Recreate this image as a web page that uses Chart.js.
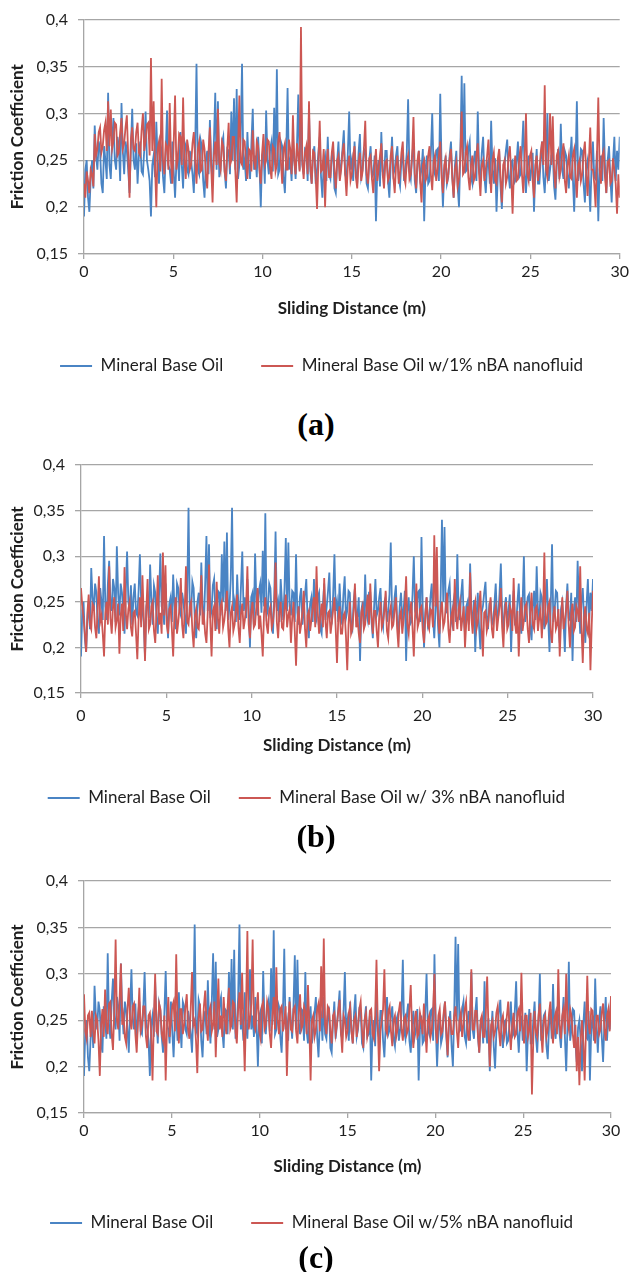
<!DOCTYPE html>
<html>
<head>
<meta charset="utf-8">
<script src="https://cdn.jsdelivr.net/npm/chart.js@4.4.0/dist/chart.umd.min.js"></script>
<style>
  html, body { margin: 0; padding: 0; background: #fff; }
  body { width: 632px; height: 1272px; position: relative; overflow: hidden; }
  canvas { position: absolute; left: 0; }
  .tag { position: absolute; left: 0; width: 632px; text-align: center; line-height: 36px;
         font: bold 32px "Liberation Serif", "Times New Roman", serif; color: #000; }
</style>
</head>
<body>
<canvas id="chartA" width="632" height="390" style="top:0px"></canvas>
<div class="tag" style="top:406px">(a)</div>
<canvas id="chartB" width="632" height="375" style="top:445px"></canvas>
<div class="tag" style="top:818px">(b)</div>
<canvas id="chartC" width="632" height="385" style="top:860px"></canvas>
<div class="tag" style="top:1239px">(c)</div>

<script>
// sampling step along the sliding distance (m)
const STEP = 0.075;
const xTicks = [0, 5, 10, 15, 20, 25, 30];
const yTicks = [0.15, 0.2, 0.25, 0.3, 0.35, 0.4];

// Mineral Base Oil (same run in all three panels)
const baseOil = [
  0.19,0.24,0.25,0.21,0.195,0.23,0.25,0.22,0.287,0.255,0.24,0.27,0.26,0.225,0.215,0.265,0.25,0.23,0.322,0.245,0.23,0.27,0.295,0.25,0.24,0.275,0.265,0.228,0.311,0.26,0.235,0.27,0.26,0.24,0.215,0.262,0.305,0.25,0.24,0.268,
  0.225,0.255,0.27,0.238,0.235,0.262,0.302,0.25,0.24,0.228,0.19,0.245,0.255,0.232,0.291,0.25,0.225,0.268,0.26,0.232,0.215,0.258,0.303,0.245,0.24,0.225,0.27,0.238,0.21,0.248,0.255,0.228,0.28,0.245,0.22,0.27,0.265,0.24,0.235,0.26,
  0.25,0.235,0.215,0.262,0.353,0.24,0.235,0.272,0.265,0.228,0.21,0.25,0.26,0.235,0.293,0.245,0.225,0.27,0.322,0.24,0.313,0.232,0.24,0.268,0.275,0.238,0.22,0.262,0.26,0.235,0.302,0.25,0.316,0.24,0.326,0.23,0.245,0.275,0.353,0.24,
  0.25,0.228,0.28,0.245,0.23,0.268,0.305,0.24,0.255,0.232,0.275,0.245,0.2,0.255,0.26,0.225,0.303,0.25,0.235,0.262,0.27,0.238,0.306,0.245,0.347,0.235,0.24,0.27,0.265,0.232,0.215,0.258,0.327,0.24,0.25,0.228,0.275,0.25,0.23,0.265,
  0.32,0.24,0.315,0.245,0.235,0.262,0.26,0.228,0.302,0.238,0.225,0.255,0.265,0.225,0.24,0.258,0.275,0.232,0.21,0.248,0.255,0.228,0.275,0.235,0.23,0.255,0.26,0.22,0.215,0.248,0.27,0.23,0.245,0.262,0.282,0.235,0.23,0.258,0.302,0.24,
  0.25,0.228,0.27,0.238,0.225,0.258,0.278,0.232,0.24,0.262,0.26,0.225,0.22,0.25,0.265,0.232,0.235,0.255,0.185,0.24,0.25,0.222,0.28,0.238,0.23,0.26,0.26,0.228,0.21,0.245,0.275,0.235,0.24,0.255,0.265,0.23,0.222,0.25,0.255,0.228,
  0.24,0.258,0.315,0.238,0.23,0.255,0.268,0.228,0.215,0.245,0.26,0.232,0.24,0.262,0.185,0.24,0.255,0.225,0.228,0.258,0.3,0.24,0.235,0.26,0.262,0.228,0.321,0.242,0.2,0.238,0.255,0.225,0.232,0.255,0.27,0.232,0.21,0.245,0.26,0.222,
  0.2,0.258,0.34,0.25,0.332,0.238,0.24,0.262,0.27,0.232,0.225,0.25,0.26,0.228,0.302,0.24,0.23,0.258,0.275,0.232,0.215,0.245,0.25,0.225,0.292,0.24,0.225,0.252,0.195,0.235,0.26,0.222,0.198,0.238,0.245,0.26,0.272,0.235,0.22,0.248,
  0.25,0.225,0.228,0.248,0.27,0.232,0.235,0.26,0.292,0.238,0.215,0.245,0.255,0.228,0.24,0.258,0.195,0.238,0.262,0.225,0.225,0.25,0.27,0.232,0.215,0.248,0.3,0.228,0.24,0.255,0.258,0.222,0.208,0.245,0.262,0.23,0.289,0.24,0.23,0.26,
  0.255,0.235,0.22,0.25,0.275,0.232,0.195,0.245,0.313,0.228,0.24,0.262,0.26,0.225,0.205,0.242,0.25,0.228,0.195,0.245,0.27,0.232,0.23,0.26,0.185,0.24,0.255,0.228,0.295,0.245,0.215,0.25,0.265,0.232,0.205,0.248,0.275,0.228,0.26,0.24,
  0.275
];

// Mineral Base Oil w/1% nBA nanofluid
const nba1 = [
  0.225,0.21,0.238,0.228,0.215,0.24,0.235,0.222,0.278,0.255,0.262,0.28,0.285,0.258,0.265,0.282,0.29,0.26,0.313,0.265,0.304,0.262,0.27,0.29,0.288,0.255,0.258,0.28,0.295,0.262,0.268,0.285,0.298,0.255,0.21,0.272,0.285,0.262,0.26,0.28,
  0.29,0.258,0.255,0.282,0.3,0.26,0.27,0.288,0.29,0.255,0.359,0.26,0.313,0.245,0.2,0.262,0.27,0.238,0.337,0.25,0.235,0.268,0.265,0.24,0.311,0.248,0.225,0.27,0.319,0.24,0.25,0.278,0.275,0.245,0.317,0.25,0.23,0.272,0.262,0.24,
  0.245,0.268,0.28,0.25,0.225,0.262,0.27,0.238,0.24,0.272,0.262,0.235,0.22,0.26,0.285,0.242,0.205,0.255,0.27,0.245,0.305,0.248,0.24,0.27,0.265,0.238,0.228,0.262,0.29,0.245,0.25,0.275,0.275,0.238,0.205,0.26,0.319,0.248,0.245,0.272,
  0.27,0.245,0.23,0.262,0.26,0.238,0.282,0.25,0.24,0.27,0.265,0.24,0.225,0.258,0.278,0.245,0.25,0.272,0.27,0.242,0.23,0.265,0.262,0.238,0.245,0.27,0.28,0.25,0.225,0.262,0.268,0.24,0.24,0.272,0.262,0.235,0.298,0.25,0.235,0.268,
  0.255,0.238,0.392,0.25,0.23,0.258,0.265,0.235,0.313,0.245,0.225,0.26,0.258,0.232,0.198,0.248,0.292,0.238,0.24,0.262,0.2,0.245,0.262,0.232,0.232,0.258,0.27,0.24,0.22,0.25,0.255,0.228,0.24,0.258,0.268,0.235,0.212,0.245,0.255,0.228,
  0.235,0.255,0.265,0.232,0.22,0.248,0.258,0.228,0.238,0.262,0.292,0.235,0.225,0.252,0.255,0.23,0.215,0.245,0.262,0.228,0.24,0.255,0.268,0.235,0.22,0.248,0.25,0.228,0.232,0.255,0.265,0.232,0.215,0.245,0.255,0.225,0.238,0.258,0.27,0.232,
  0.225,0.248,0.255,0.23,0.235,0.255,0.296,0.235,0.22,0.25,0.26,0.228,0.205,0.245,0.25,0.228,0.232,0.255,0.265,0.235,0.218,0.248,0.255,0.228,0.24,0.255,0.27,0.232,0.215,0.245,0.252,0.225,0.235,0.252,0.262,0.23,0.21,0.24,0.248,0.222,
  0.23,0.255,0.302,0.235,0.238,0.258,0.265,0.232,0.218,0.245,0.255,0.228,0.232,0.255,0.268,0.235,0.212,0.245,0.25,0.228,0.24,0.255,0.272,0.235,0.215,0.25,0.258,0.228,0.225,0.252,0.262,0.232,0.205,0.245,0.25,0.225,0.232,0.255,0.265,0.235,
  0.193,0.238,0.255,0.228,0.23,0.252,0.265,0.235,0.215,0.248,0.3,0.235,0.228,0.255,0.26,0.228,0.21,0.245,0.255,0.228,0.238,0.258,0.27,0.245,0.33,0.24,0.232,0.258,0.3,0.245,0.297,0.24,0.22,0.255,0.26,0.232,0.24,0.258,0.268,0.228,
  0.215,0.245,0.255,0.232,0.23,0.255,0.262,0.235,0.21,0.245,0.25,0.228,0.235,0.258,0.27,0.235,0.212,0.25,0.285,0.24,0.24,0.225,0.2,0.255,0.317,0.24,0.225,0.255,0.26,0.232,0.215,0.248,0.25,0.225,0.228,0.252,0.24,0.225,0.193,0.235,
  0.21
];

// Mineral Base Oil w/ 3% nBA nanofluid
const nba3 = [
  0.265,0.245,0.232,0.215,0.195,0.238,0.258,0.225,0.22,0.248,0.245,0.222,0.21,0.242,0.278,0.228,0.235,0.215,0.19,0.238,0.25,0.225,0.289,0.232,0.215,0.245,0.255,0.222,0.23,0.248,0.193,0.235,0.248,0.218,0.288,0.238,0.22,0.242,0.25,0.222,
  0.212,0.238,0.24,0.215,0.187,0.232,0.255,0.222,0.279,0.235,0.185,0.24,0.275,0.22,0.225,0.245,0.25,0.218,0.205,0.24,0.279,0.225,0.238,0.215,0.304,0.235,0.29,0.225,0.215,0.242,0.245,0.22,0.19,0.238,0.255,0.215,0.228,0.245,0.276,0.225,
  0.21,0.24,0.289,0.228,0.225,0.245,0.25,0.218,0.2,0.235,0.242,0.222,0.22,0.245,0.279,0.225,0.235,0.215,0.205,0.238,0.291,0.228,0.19,0.24,0.245,0.218,0.272,0.232,0.215,0.245,0.25,0.222,0.23,0.245,0.262,0.22,0.2,0.238,0.245,0.218,
  0.225,0.242,0.258,0.222,0.205,0.238,0.248,0.22,0.23,0.245,0.289,0.225,0.21,0.238,0.25,0.222,0.225,0.245,0.265,0.22,0.235,0.215,0.19,0.238,0.255,0.225,0.215,0.24,0.245,0.222,0.228,0.245,0.293,0.228,0.21,0.238,0.25,0.222,0.22,0.242,
  0.258,0.222,0.235,0.242,0.205,0.232,0.25,0.218,0.18,0.228,0.245,0.215,0.225,0.24,0.262,0.22,0.2,0.235,0.24,0.218,0.23,0.245,0.255,0.222,0.289,0.238,0.215,0.235,0.248,0.222,0.276,0.228,0.21,0.238,0.24,0.215,0.228,0.242,0.255,0.22,
  0.183,0.232,0.245,0.215,0.215,0.235,0.238,0.212,0.175,0.225,0.25,0.215,0.22,0.24,0.27,0.222,0.232,0.215,0.205,0.238,0.245,0.22,0.225,0.242,0.258,0.225,0.27,0.235,0.215,0.24,0.24,0.218,0.2,0.235,0.25,0.222,0.228,0.24,0.262,0.218,
  0.21,0.238,0.245,0.222,0.225,0.242,0.255,0.22,0.2,0.235,0.24,0.215,0.23,0.245,0.278,0.225,0.215,0.238,0.25,0.222,0.19,0.235,0.27,0.222,0.228,0.242,0.245,0.218,0.205,0.235,0.255,0.225,0.22,0.242,0.24,0.222,0.323,0.245,0.31,0.232,
  0.215,0.24,0.25,0.222,0.228,0.245,0.26,0.22,0.205,0.232,0.24,0.218,0.275,0.235,0.22,0.242,0.25,0.218,0.232,0.245,0.2,0.228,0.245,0.218,0.282,0.232,0.215,0.242,0.25,0.22,0.228,0.245,0.262,0.222,0.19,0.238,0.24,0.218,0.225,0.242,
  0.255,0.22,0.21,0.238,0.245,0.218,0.232,0.245,0.265,0.222,0.2,0.238,0.25,0.22,0.225,0.245,0.24,0.218,0.276,0.228,0.215,0.24,0.19,0.232,0.255,0.218,0.23,0.245,0.248,0.22,0.205,0.238,0.26,0.225,0.22,0.242,0.245,0.218,0.232,0.24,
  0.21,0.238,0.304,0.225,0.228,0.245,0.25,0.218,0.205,0.235,0.245,0.22,0.225,0.242,0.19,0.228,0.255,0.22,0.23,0.242,0.262,0.225,0.2,0.238,0.248,0.218,0.222,0.245,0.24,0.228,0.289,0.222,0.183,0.232,0.245,0.22,0.215,0.238,0.175,0.225,
  0.262
];

// Mineral Base Oil w/5% nBA nanofluid
const nba5 = [
  0.278,0.238,0.23,0.255,0.258,0.232,0.26,0.238,0.225,0.255,0.25,0.228,0.19,0.245,0.262,0.232,0.283,0.245,0.235,0.268,0.27,0.235,0.218,0.26,0.337,0.25,0.24,0.272,0.311,0.245,0.255,0.232,0.225,0.262,0.285,0.25,0.24,0.265,0.268,0.235,
  0.215,0.25,0.285,0.238,0.245,0.265,0.265,0.232,0.22,0.255,0.258,0.235,0.185,0.248,0.3,0.238,0.235,0.268,0.262,0.235,0.228,0.255,0.185,0.245,0.275,0.232,0.248,0.265,0.27,0.238,0.321,0.25,0.225,0.262,0.262,0.235,0.245,0.265,0.278,0.24,
  0.23,0.262,0.302,0.245,0.25,0.228,0.193,0.252,0.268,0.238,0.24,0.265,0.282,0.245,0.228,0.26,0.265,0.238,0.245,0.27,0.21,0.255,0.295,0.24,0.255,0.232,0.275,0.25,0.235,0.265,0.285,0.24,0.245,0.27,0.268,0.238,0.225,0.262,0.28,0.245,
  0.301,0.245,0.195,0.262,0.346,0.24,0.25,0.268,0.337,0.245,0.24,0.262,0.28,0.238,0.23,0.265,0.27,0.24,0.245,0.27,0.262,0.235,0.22,0.255,0.275,0.24,0.307,0.25,0.235,0.262,0.265,0.238,0.248,0.265,0.19,0.245,0.27,0.24,0.238,0.262,
  0.265,0.238,0.225,0.258,0.278,0.24,0.245,0.265,0.26,0.235,0.288,0.245,0.185,0.25,0.255,0.232,0.24,0.262,0.268,0.238,0.308,0.252,0.338,0.245,0.235,0.265,0.262,0.238,0.225,0.255,0.258,0.235,0.245,0.26,0.272,0.238,0.215,0.255,0.25,0.232,
  0.238,0.258,0.265,0.238,0.225,0.25,0.255,0.232,0.245,0.262,0.27,0.24,0.22,0.25,0.258,0.232,0.24,0.26,0.262,0.235,0.23,0.255,0.315,0.245,0.195,0.238,0.25,0.262,0.305,0.24,0.235,0.26,0.265,0.238,0.222,0.25,0.255,0.232,0.24,0.26,
  0.27,0.24,0.228,0.252,0.255,0.235,0.24,0.262,0.288,0.24,0.22,0.25,0.26,0.232,0.235,0.258,0.25,0.235,0.268,0.24,0.215,0.25,0.255,0.232,0.24,0.262,0.3,0.24,0.225,0.255,0.262,0.235,0.238,0.258,0.27,0.238,0.212,0.252,0.25,0.235,
  0.235,0.255,0.265,0.238,0.22,0.25,0.258,0.232,0.245,0.262,0.27,0.238,0.228,0.255,0.305,0.24,0.24,0.26,0.26,0.235,0.215,0.25,0.255,0.232,0.232,0.258,0.297,0.24,0.2,0.245,0.25,0.232,0.238,0.258,0.265,0.238,0.222,0.25,0.255,0.232,
  0.24,0.255,0.27,0.238,0.218,0.245,0.258,0.232,0.235,0.258,0.262,0.238,0.301,0.245,0.225,0.255,0.255,0.232,0.24,0.258,0.17,0.228,0.26,0.238,0.232,0.255,0.268,0.235,0.215,0.25,0.255,0.232,0.24,0.258,0.27,0.24,0.225,0.252,0.258,0.235,
  0.305,0.245,0.23,0.255,0.262,0.235,0.3,0.25,0.24,0.262,0.255,0.235,0.22,0.245,0.195,0.232,0.18,0.228,0.25,0.225,0.185,0.24,0.298,0.245,0.235,0.262,0.26,0.238,0.225,0.255,0.255,0.235,0.24,0.258,0.268,0.24,0.228,0.255,0.262,0.238,
  0.276
];

const distance = baseOil.map((_, i) => +(i * STEP).toFixed(3));

const BLUE = '#4a84c4';
const RED = '#cc5753';
const GRID = '#a6a6a6';
const TEXT = '#1e1e1e';
const FONT = 'Lato, "Open Sans", sans-serif';

const toPoints = arr => arr.map((v, i) => ({ x: distance[i], y: v }));
const comma = v => String(+(+v).toFixed(2)).replace('.', ',');

function makeChart(id, redValues, redLabel, lay) {
  new Chart(document.getElementById(id), {
    type: 'line',
    data: {
      datasets: [
        { label: 'Mineral Base Oil', data: toPoints(baseOil), borderColor: BLUE,
          backgroundColor: BLUE, borderWidth: 1.8, pointRadius: 0, tension: 0, order: 1 },
        { label: redLabel, data: toPoints(redValues), borderColor: RED,
          backgroundColor: RED, borderWidth: 1.8, pointRadius: 0, tension: 0, order: 0 }
      ]
    },
    options: {
      responsive: false,
      animation: false,
      devicePixelRatio: 1,
      layout: { padding: { top: lay.top, right: lay.right, bottom: lay.bottom, left: 0 } },
      plugins: {
        tooltip: { enabled: false },
        legend: {
          position: 'bottom',
          align: 'end',
          labels: {
            usePointStyle: true,
            pointStyle: 'line',
            pointStyleWidth: 32,
            boxHeight: 15,
            padding: lay.legendGap,
            color: TEXT,
            font: { family: FONT, size: 17 },
            sort: (a, b) => a.datasetIndex - b.datasetIndex
          }
        }
      },
      scales: {
        x: {
          type: 'linear',
          min: 0, max: 30,
          afterBuildTicks: s => { s.ticks = xTicks.map(v => ({ value: v })); },
          afterFit: s => { s.height = lay.xAxisH; },
          ticks: { color: TEXT, padding: lay.tickPad, maxRotation: 0,
                   font: { family: FONT, size: 16 } },
          grid: { drawOnChartArea: false, drawTicks: true, tickLength: 5, color: GRID, lineWidth: 1.3 },
          border: { color: GRID, width: 1.3 },
          title: { display: true, text: 'Sliding Distance (m)', color: TEXT,
                   padding: { top: 4, bottom: lay.titlePad },
                   font: { family: FONT, size: 17, weight: 'bold' } }
        },
        y: {
          min: 0.15, max: 0.4,
          afterBuildTicks: s => { s.ticks = yTicks.map(v => ({ value: v })); },
          afterFit: s => { s.width = lay.left; },
          ticks: { color: TEXT, padding: 10, callback: v => comma(v),
                   font: { family: FONT, size: 16 } },
          grid: { color: GRID, lineWidth: 1.3, tickLength: 6 },
          border: { color: GRID, width: 1.3 },
          title: { display: true, text: 'Friction Coefficient', color: TEXT,
                   padding: { top: 7, bottom: 4 },
                   font: { family: FONT, size: 17, weight: 'bold' } }
        }
      }
    }
  });
}

makeChart('chartA', nba1, 'Mineral Base Oil w/1% nBA nanofluid',
  { left: 84, top: 18, right: 11, bottom: 5.5, xAxisH: 65.5, tickPad: 3, titlePad: 1, legendGap: 38 });
makeChart('chartB', nba3, 'Mineral Base Oil w/ 3% nBA nanofluid',
  { left: 81, top: 20, right: 39, bottom: 3.5, xAxisH: 68.5, tickPad: 8, titlePad: 6, legendGap: 28 });
makeChart('chartC', nba5, 'Mineral Base Oil w/5% nBA nanofluid',
  { left: 84, top: 21, right: 21, bottom: 3.5, xAxisH: 63.5, tickPad: 3, titlePad: 0, legendGap: 38 });
</script>
</body>
</html>
